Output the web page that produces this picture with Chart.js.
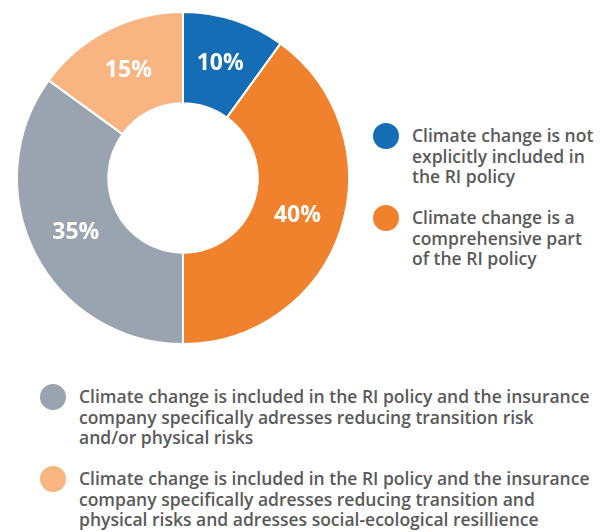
<!DOCTYPE html>
<html>
<head>
<meta charset="utf-8">
<script src="https://cdn.jsdelivr.net/npm/chart.js@4"></script>
<style>
  body { margin: 0; background: #fff; font-family: "Open Sans", sans-serif; }
  #wrap { position: relative; width: 601px; height: 532px; }
  #box { position: absolute; left: 16px; top: 11px; width: 334px; height: 334px; }
  .leg { position: absolute; color: #5a5a5a; font-size: 17.5px; font-weight: 600; line-height: 20.5px; white-space: nowrap; }
  .leg .dot { position: absolute; width: 26px; height: 26px; border-radius: 50%; left: 0; top: -2px; }
  .leg .txt { position: absolute; left: 39px; top: 0; }
</style>
</head>
<body>
<div id="wrap">
  <div id="box"><canvas id="grafico"></canvas></div>
  <div id="legenda"></div>
</div>
<script>
// dados do gráfico
const categorias = [
    'Climate change is not explicitly included in the RI policy',
    'Climate change is a comprehensive part of the RI policy',
    'Climate change is included in the RI policy and the insurance company specifically adresses reducing transition risk and/or physical risks',
    'Climate change is included in the RI policy and the insurance company specifically adresses reducing transition and physical risks and adresses social-ecological resillience'
];
const valores = [10, 40, 35, 15];
const cores = ['#156db5', '#f0812d', '#9aa3b0', '#f8b581'];

// quebras de linha da legenda, como no original
const linhasLegenda = [
    ['Climate change is not', 'explicitly included in', 'the RI policy'],
    ['Climate change is a', 'comprehensive part', 'of the RI policy'],
    ['Climate change is included in the RI policy and the insurance', 'company specifically adresses reducing transition risk', 'and/or physical risks'],
    ['Climate change is included in the RI policy and the insurance', 'company specifically adresses reducing transition and', 'physical risks and adresses social-ecological resillience']
];
// posição de cada item da legenda (x, y)
const posLegenda = [[373, 125], [373, 207], [40, 386], [40, 468]];

// Plugin para escrever as porcentagens dentro das fatias
const rotulos = {
    id: 'rotulos',
    afterDatasetsDraw(chart) {
        const ctx = chart.ctx;
        const meta = chart.getDatasetMeta(0);
        ctx.save();
        ctx.fillStyle = '#ffffff';
        ctx.font = 'bold 23px "Open Sans", sans-serif';
        ctx.textAlign = 'center';
        ctx.textBaseline = 'middle';
        meta.data.forEach((arc, i) => {
            const p = arc.tooltipPosition();
            ctx.fillText(valores[i] + '%', p.x, p.y);
        });
        ctx.restore();
    }
};

new Chart(document.getElementById('grafico'), {
    type: 'doughnut',
    data: {
        labels: categorias,
        datasets: [{
            data: valores,
            backgroundColor: cores,
            borderColor: '#ffffff',
            borderWidth: 2
        }]
    },
    options: {
        responsive: true,
        maintainAspectRatio: true,
        animation: false,
        cutout: '45%',
        plugins: {
            legend: { display: false },
            tooltip: { enabled: false }
        }
    },
    plugins: [rotulos]
});

// Monta a legenda em HTML
const leg = document.getElementById('legenda');
linhasLegenda.forEach((linhas, i) => {
    const div = document.createElement('div');
    div.className = 'leg';
    div.style.left = posLegenda[i][0] + 'px';
    div.style.top = posLegenda[i][1] + 'px';
    div.innerHTML = `<span class="dot" style="background:${cores[i]}"></span><span class="txt">${linhas.join('<br>')}</span>`;
    leg.appendChild(div);
});
</script>
</body>
</html>
